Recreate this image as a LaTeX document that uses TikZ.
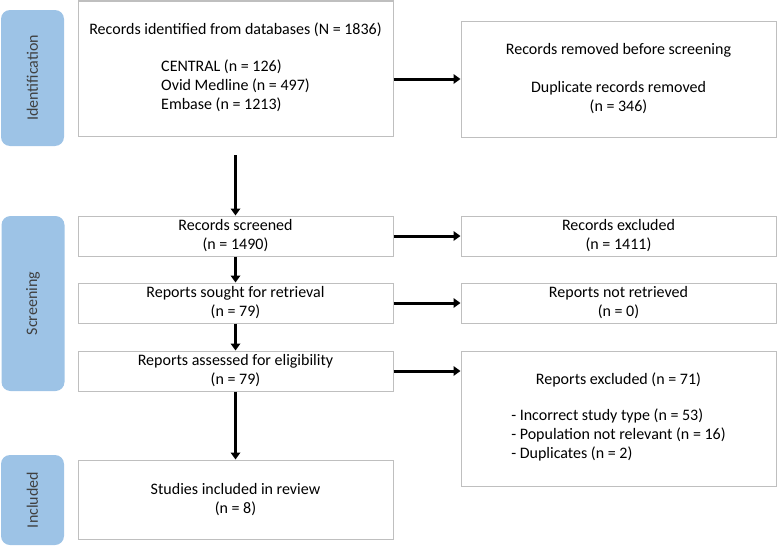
\documentclass[tikz,border=0pt]{standalone}
\usepackage{fontspec}
\setmainfont{Carlito}
\usetikzlibrary{arrows.meta}
\usetikzlibrary{calc}
\tikzset{>={Triangle[length=7pt,width=9.5pt]}}
\definecolor{phaseblue}{RGB}{157,195,230}
\definecolor{boxgray}{RGB}{191,191,191}
\definecolor{labelgray}{RGB}{64,64,64}
\tikzset{
  box/.style={draw=boxgray, line width=1pt, fill=white, minimum width=315pt, inner sep=0pt, align=center, font=\fontsize{16}{19}\selectfont},
  phase/.style={fill=phaseblue, rounded corners=9pt, minimum height=63pt, inner sep=0pt, rotate=90, text=labelgray, font=\fontsize{16}{19}\selectfont},
  arr/.style={->, line width=3pt}
}

\begin{document}
\begin{tikzpicture}[x=1pt,y=-1pt]
  \useasboundingbox (0,0) rectangle (777,546);
  \pgfmathsetmacro{\leftx}{235.5}
  \pgfmathsetmacro{\rightx}{618.5}
  % phase labels
  \node [phase, minimum width=136pt] (idlab) at (32.5,78) {Identification};
  \node [phase, minimum width=175pt] (scrlab) at (33,303.5) {Screening};
  \node [phase, minimum width=90pt] (inclab) at (32.5,500) {Included};
  % main column
  \node [box, minimum height=135pt] (ident) at (\leftx,68.5)
    {Records identified from databases (N = 1836)\\[18pt]
     \begin{tabular}[t]{@{}l@{}}CENTRAL (n = 126)\\ Ovid Medline (n = 497)\\ Embase (n = 1213)\end{tabular}};
  \node [box, minimum height=40pt] (screened) at (\leftx,236) {Records screened\\(n = 1490)};
  \node [box, minimum height=40pt] (sought) at (\leftx,303) {Reports sought for retrieval\\(n = 79)};
  \node [box, minimum height=40pt] (assessed) at (\leftx,371) {Reports assessed for eligibility\\(n = 79)};
  \node [box, minimum height=79pt] (included) at (\leftx,499.5) {Studies included in review\\(n = 8)};
  % side column
  \node [box, minimum height=116pt] (removed) at (\rightx,79)
    {Records removed before screening\\[19pt] Duplicate records removed\\(n = 346)};
  \node [box, minimum height=40pt] (excluded) at (\rightx,236) {Records excluded\\(n = 1411)};
  \node [box, minimum height=40pt] (notret) at (\rightx,303) {Reports not retrieved\\(n = 0)};
  \node [box, minimum height=135pt] (repexcl) at (\rightx,418.5)
    {Reports excluded (n = 71)\\[17pt]
     \begin{tabular}[t]{@{}l@{}}- Incorrect study type (n = 53)\\ - Population not relevant (n = 16)\\ - Duplicates (n = 2)\end{tabular}};
  % arrows
  \coordinate (idfoot) at (\leftx,155);
  \draw [arr] (idfoot) -- (screened);
  \draw [arr] (screened) -- (sought);
  \draw [arr] (sought) -- (assessed);
  \draw [arr] (assessed) -- (included);
  \draw [arr] (ident.east |- removed.west) -- (removed.west);
  \draw [arr] (screened) -- (excluded);
  \draw [arr] (sought) -- (notret);
  \draw [arr] (assessed) -- (assessed -| repexcl.west);
\end{tikzpicture}
\end{document}
